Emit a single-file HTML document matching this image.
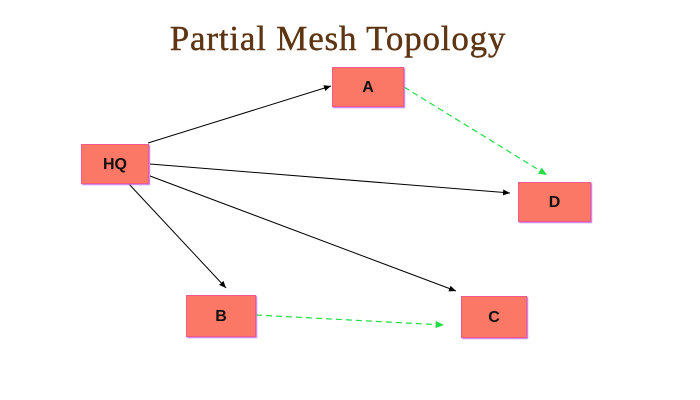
<!DOCTYPE html>
<html><head><style>
body{margin:0;width:700px;height:400px;background:#fff;overflow:hidden;position:relative;font-family:"Liberation Sans",sans-serif}
.t{position:absolute;left:0;width:676px;top:19px;text-align:center;font-family:"Liberation Serif",serif;font-size:35px;letter-spacing:0.8px;color:#5e3512;-webkit-text-stroke:0.4px #5e3512}
.b{position:absolute;background:#fb7766;border:1px solid #f05a8a;box-shadow:1px 1px 1px #c070e0;font-weight:bold;font-size:16px;color:#111;display:flex;align-items:center;justify-content:center;padding-top:2px;box-sizing:border-box}
</style></head><body>
<div class="t">Partial Mesh Topology</div>
<svg width="700" height="400" style="position:absolute;left:0;top:0">
<defs>
<marker id="k" markerWidth="8" markerHeight="8" refX="7" refY="3" orient="auto"><path d="M0,0L7,3L0,6z" fill="#000"/></marker>
<marker id="g" markerWidth="8" markerHeight="8" refX="7" refY="3" orient="auto"><path d="M0,0L7,3L0,6z" fill="#22dd44"/></marker>
</defs>
<g stroke="#000" stroke-width="1" marker-end="url(#k)">
<line x1="148" y1="143" x2="331" y2="86"/>
<line x1="150" y1="164" x2="510" y2="193"/>
<line x1="150" y1="176" x2="456" y2="291"/>
<line x1="128" y1="183" x2="226" y2="288"/>
</g>
<g stroke="#22dd44" stroke-width="1.2" stroke-dasharray="6,4" marker-end="url(#g)">
<line x1="404" y1="87" x2="547" y2="175"/>
<line x1="256" y1="315" x2="444" y2="325"/>
</g>
</svg>
<div class="b" style="left:332px;top:67px;width:72px;height:40px">A</div>
<div class="b" style="left:81px;top:144px;width:68px;height:40px">HQ</div>
<div class="b" style="left:518px;top:182px;width:73px;height:40px">D</div>
<div class="b" style="left:186px;top:295px;width:70px;height:42px">B</div>
<div class="b" style="left:461px;top:296px;width:66px;height:42px">C</div>
</body></html>
